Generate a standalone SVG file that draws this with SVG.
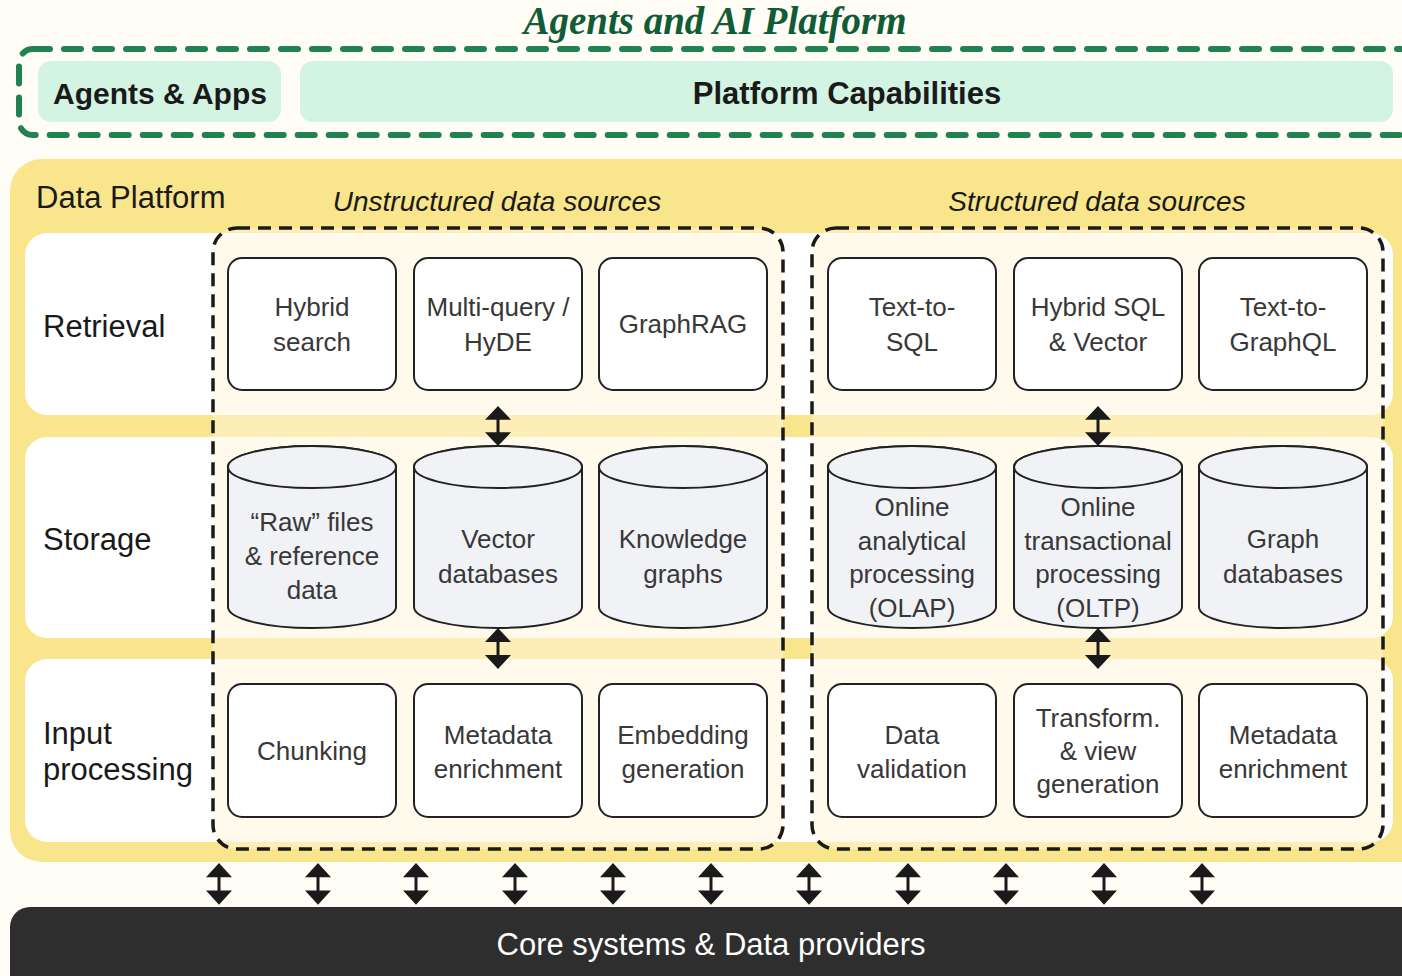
<svg xmlns="http://www.w3.org/2000/svg" width="1402" height="976" viewBox="0 0 1402 976">
<style>
.t{font-family:"Liberation Sans",Arial,sans-serif;}
.box{fill:#ffffff;stroke:#222222;stroke-width:2;}
.cyl{fill:#f1f2f6;stroke:#222222;stroke-width:2;}
.bt{font-family:"Liberation Sans",Arial,sans-serif;font-size:26px;fill:#383838;text-anchor:middle;}
.rl{font-family:"Liberation Sans",Arial,sans-serif;font-size:31px;fill:#1a1a1a;}
.ds{fill:#fff6db;fill-opacity:0.55;stroke:#1a1a1a;stroke-width:3.5;stroke-dasharray:13 8;}
.arr{fill:#1a1a1a;}
.row{fill:#ffffff;}
</style>
<defs>
<path id="dbl" d="M0,0 L13,14 L1.5,14 L1.5,27 L13,27 L0,41 L-13,27 L-1.5,27 L-1.5,14 L-13,14 Z"/>
</defs>
<rect x="0" y="0" width="1402" height="976" fill="#fffdf6"/>

<g id="agents-platform">
<text x="715" y="34" font-family="Liberation Serif,Times New Roman,serif" font-style="italic" font-weight="bold" font-size="39" fill="#0f5c36" text-anchor="middle">Agents and AI Platform</text>
<rect x="19" y="49" width="1420" height="86" rx="14" fill="none" stroke="#1f8250" stroke-width="6" stroke-linecap="round" stroke-dasharray="17 14"/>
</g>
<g id="agents-apps">
<rect x="38" y="61" width="243" height="61" rx="13" fill="#d3f3e3"/>
<text class="t" x="160" y="104" font-size="30" font-weight="bold" fill="#1a1a1a" text-anchor="middle">Agents &amp; Apps</text>
</g>
<g id="platform-capabilities">
<rect x="300" y="61" width="1093" height="61" rx="13" fill="#d3f3e3"/>
<text class="t" x="847" y="104" font-size="31" font-weight="bold" fill="#1a1a1a" text-anchor="middle">Platform Capabilities</text>
</g>

<g id="data-platform">
<rect x="10" y="159" width="1430" height="703" rx="32" fill="#f9e58b"/>
<text class="rl" x="36" y="208" font-size="32">Data Platform</text>
<rect class="row" x="25" y="233" width="1368" height="182" rx="22"/>
<rect class="row" x="25" y="437" width="1368" height="201" rx="22"/>
<rect class="row" x="25" y="659" width="1368" height="183" rx="22"/>
<text class="rl" x="43" y="337">Retrieval</text>
<text class="rl" x="43" y="550">Storage</text>
<text class="rl" x="43" y="744">Input</text>
<text class="rl" x="43" y="780">processing</text>
</g>

<g id="unstructured">
<rect class="ds" x="213" y="228" width="570" height="621" rx="24"/>
<text class="t" x="497" y="211" font-size="28" font-style="italic" fill="#1a1a1a" text-anchor="middle">Unstructured data sources</text>
</g>
<g id="structured">
<rect class="ds" x="812" y="228" width="571" height="621" rx="24"/>
<text class="t" x="1097" y="211" font-size="28" font-style="italic" fill="#1a1a1a" text-anchor="middle">Structured data sources</text>
</g>

<g id="hybrid-search"><rect class="box" x="228" y="258" width="168" height="132" rx="14"/><text class="bt" x="312" y="316">Hybrid</text><text class="bt" x="312" y="351">search</text></g>
<g id="multi-query"><rect class="box" x="414" y="258" width="168" height="132" rx="14"/><text class="bt" x="498" y="316">Multi-query /</text><text class="bt" x="498" y="351">HyDE</text></g>
<g id="graphrag"><rect class="box" x="599" y="258" width="168" height="132" rx="14"/><text class="bt" x="683" y="333">GraphRAG</text></g>
<g id="text-to-sql"><rect class="box" x="828" y="258" width="168" height="132" rx="14"/><text class="bt" x="912" y="316">Text-to-</text><text class="bt" x="912" y="351">SQL</text></g>
<g id="hybrid-sql"><rect class="box" x="1014" y="258" width="168" height="132" rx="14"/><text class="bt" x="1098" y="316">Hybrid SQL</text><text class="bt" x="1098" y="351">&amp; Vector</text></g>
<g id="text-to-graphql"><rect class="box" x="1199" y="258" width="168" height="132" rx="14"/><text class="bt" x="1283" y="316">Text-to-</text><text class="bt" x="1283" y="351">GraphQL</text></g>

<g id="raw-files"><path class="cyl" d="M228,467 V607 A84,21 0 0 0 396,607 V467 A84,21 0 0 0 228,467 Z"/><ellipse class="cyl" cx="312" cy="467" rx="84" ry="21"/><text class="bt" x="312" y="531">“Raw” files</text><text class="bt" x="312" y="565">&amp; reference</text><text class="bt" x="312" y="599">data</text></g>
<g id="vector-db"><path class="cyl" d="M414,467 V607 A84,21 0 0 0 582,607 V467 A84,21 0 0 0 414,467 Z"/><ellipse class="cyl" cx="498" cy="467" rx="84" ry="21"/><text class="bt" x="498" y="548">Vector</text><text class="bt" x="498" y="583">databases</text></g>
<g id="knowledge-graphs"><path class="cyl" d="M599,467 V607 A84,21 0 0 0 767,607 V467 A84,21 0 0 0 599,467 Z"/><ellipse class="cyl" cx="683" cy="467" rx="84" ry="21"/><text class="bt" x="683" y="548">Knowledge</text><text class="bt" x="683" y="583">graphs</text></g>
<g id="olap"><path class="cyl" d="M828,467 V607 A84,21 0 0 0 996,607 V467 A84,21 0 0 0 828,467 Z"/><ellipse class="cyl" cx="912" cy="467" rx="84" ry="21"/><text class="bt" x="912" y="516">Online</text><text class="bt" x="912" y="550">analytical</text><text class="bt" x="912" y="583">processing</text><text class="bt" x="912" y="617">(OLAP)</text></g>
<g id="oltp"><path class="cyl" d="M1014,467 V607 A84,21 0 0 0 1182,607 V467 A84,21 0 0 0 1014,467 Z"/><ellipse class="cyl" cx="1098" cy="467" rx="84" ry="21"/><text class="bt" x="1098" y="516">Online</text><text class="bt" x="1098" y="550">transactional</text><text class="bt" x="1098" y="583">processing</text><text class="bt" x="1098" y="617">(OLTP)</text></g>
<g id="graph-db"><path class="cyl" d="M1199,467 V607 A84,21 0 0 0 1367,607 V467 A84,21 0 0 0 1199,467 Z"/><ellipse class="cyl" cx="1283" cy="467" rx="84" ry="21"/><text class="bt" x="1283" y="548">Graph</text><text class="bt" x="1283" y="583">databases</text></g>

<g id="chunking"><rect class="box" x="228" y="684" width="168" height="133" rx="14"/><text class="bt" x="312" y="760">Chunking</text></g>
<g id="metadata-u"><rect class="box" x="414" y="684" width="168" height="133" rx="14"/><text class="bt" x="498" y="744">Metadata</text><text class="bt" x="498" y="778">enrichment</text></g>
<g id="embedding"><rect class="box" x="599" y="684" width="168" height="133" rx="14"/><text class="bt" x="683" y="744">Embedding</text><text class="bt" x="683" y="778">generation</text></g>
<g id="data-validation"><rect class="box" x="828" y="684" width="168" height="133" rx="14"/><text class="bt" x="912" y="744">Data</text><text class="bt" x="912" y="778">validation</text></g>
<g id="transform"><rect class="box" x="1014" y="684" width="168" height="133" rx="14"/><text class="bt" x="1098" y="727">Transform.</text><text class="bt" x="1098" y="760">&amp; view</text><text class="bt" x="1098" y="793">generation</text></g>
<g id="metadata-s"><rect class="box" x="1199" y="684" width="168" height="133" rx="14"/><text class="bt" x="1283" y="744">Metadata</text><text class="bt" x="1283" y="778">enrichment</text></g>

<g id="core-systems">
<rect x="10" y="907" width="1430" height="100" rx="20" fill="#2e2e2e"/>
<text class="t" x="711" y="955" font-size="31" fill="#ffffff" text-anchor="middle">Core systems &amp; Data providers</text>
</g>

<g id="connectors" class="arr">
<use href="#dbl" transform="translate(498,406) scale(1,0.976)"/>
<use href="#dbl" transform="translate(1098,406) scale(1,0.976)"/>
<use href="#dbl" transform="translate(498,628)"/>
<use href="#dbl" transform="translate(1098,628)"/>
<use href="#dbl" transform="translate(219,863) scale(1,1.02)"/>
<use href="#dbl" transform="translate(318,863) scale(1,1.02)"/>
<use href="#dbl" transform="translate(416,863) scale(1,1.02)"/>
<use href="#dbl" transform="translate(515,863) scale(1,1.02)"/>
<use href="#dbl" transform="translate(613,863) scale(1,1.02)"/>
<use href="#dbl" transform="translate(711,863) scale(1,1.02)"/>
<use href="#dbl" transform="translate(809,863) scale(1,1.02)"/>
<use href="#dbl" transform="translate(908,863) scale(1,1.02)"/>
<use href="#dbl" transform="translate(1006,863) scale(1,1.02)"/>
<use href="#dbl" transform="translate(1104,863) scale(1,1.02)"/>
<use href="#dbl" transform="translate(1202,863) scale(1,1.02)"/>
</g>
</svg>
